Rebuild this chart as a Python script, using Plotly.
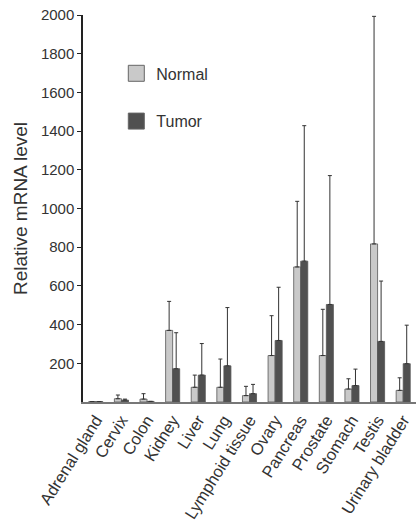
import plotly.graph_objects as go

categories = ["Adrenal gland", "Cervix", "Colon", "Kidney", "Liver", "Lung",
              "Lymphoid tissue", "Ovary", "Pancreas", "Prostate", "Stomach",
              "Testis", "Urinary bladder"]
normal = [2, 17, 15, 370, 76, 76, 33, 240, 698, 240, 67, 817, 60]
normal_err = [0, 19, 28, 150, 63, 146, 48, 206, 339, 239, 53, 1176, 65]
tumor = [2, 10, 3, 172, 139, 187, 43, 318, 728, 504, 85, 313, 198]
tumor_err = [0, 5, 0, 186, 163, 301, 48, 275, 700, 666, 85, 312, 199]
y_ticks = [200, 400, 600, 800, 1000, 1200, 1400, 1600, 1800, 2000]
series_names = ["Normal", "Tumor"]
series_colors = ["#c9c9c9", "#505050"]

font = "Liberation Sans, Arial, sans-serif"
fig = go.Figure()
for name, vals, errs, col in zip(series_names, [normal, tumor],
                                 [normal_err, tumor_err], series_colors):
    fig.add_trace(go.Bar(
        x=categories, y=vals, name=name, showlegend=False,
        marker=dict(color=col, line=dict(color="#555555", width=0.8)),
        error_y=dict(type="data", array=errs, symmetric=False,
                     arrayminus=[0] * len(vals), color="#333333",
                     thickness=1, width=2),
    ))
# legend entries with larger square symbols
for name, col in zip(series_names, series_colors):
    fig.add_trace(go.Scatter(
        x=[None], y=[None], mode="markers", name=name, legendgroup=name,
        marker=dict(symbol="square", size=18, color=col,
                    line=dict(color="#666666", width=1)),
    ))

fig.update_layout(
    width=416, height=522,
    margin=dict(l=83, r=0, t=15, b=120),
    plot_bgcolor="white", paper_bgcolor="white",
    barmode="group", bargap=0.45, bargroupgap=0,
    font=dict(family=font, size=15, color="#333333"),
    legend=dict(x=0.1, y=0.893, xanchor="left", yanchor="top",
                tracegroupgap=24, font=dict(size=16),
                bgcolor="rgba(0,0,0,0)", itemsizing="trace"),
    showlegend=True,
)
fig.update_xaxes(
    showline=True, linecolor="#777777", linewidth=2, automargin=False,
    tickangle=-58, ticks="", tickfont=dict(size=16.5),
)
fig.update_yaxes(
    range=[0, 2000], tickvals=y_ticks, ticktext=[str(v) for v in y_ticks],
    showline=True, linecolor="#222222", linewidth=1.5,
    ticks="outside", ticklen=4, tickcolor="#222222",
    showgrid=False, zeroline=False, tickfont=dict(size=15),
    title=dict(text="Relative mRNA level", font=dict(size=19), standoff=8),
)
fig.write_html("out.html", config={"displayModeBar": False},
               post_script="document.body.style.margin='0';")
